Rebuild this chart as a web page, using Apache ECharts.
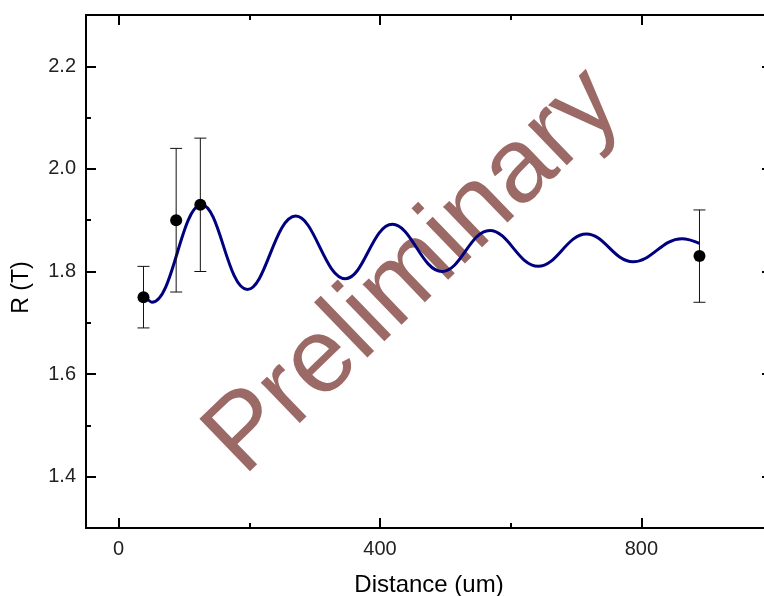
<!DOCTYPE html>
<html>
<head>
<meta charset="utf-8">
<script src="https://cdn.jsdelivr.net/npm/echarts@6/dist/echarts.min.js"></script>
<style>
  html, body { margin: 0; padding: 0; background: #fff; }
  #chart { width: 764px; height: 596px; }
</style>
</head>
<body>
<div id="chart"></div>
<script>
// measured points with error bars
const pointX = [38, 88, 125, 889];
const pointY = [1.75, 1.90, 1.93, 1.83];
const pointErr = [0.06, 0.14, 0.13, 0.09];

// fitted curve (start, extrema, end)
const fitX = [40, 51, 127, 197, 271, 347, 419, 495, 568, 642, 716, 787, 862, 889];
const fitY = [1.752, 1.740, 1.930, 1.765, 1.908, 1.786, 1.892, 1.800, 1.880, 1.810, 1.873, 1.819, 1.864, 1.855];

// tick positions
const xMajor = [0, 400, 800];
const xMinor = [200, 600];
const yMajor = [1.4, 1.6, 1.8, 2.0, 2.2];
const yMinor = [1.5, 1.7, 1.9, 2.1];

const FONT = "'Liberation Sans', Arial, sans-serif";
const chart = echarts.init(document.getElementById("chart"));

// helper for the box axes (major + minor tick copies on every side)
function xAx(position, ticks, len, labels) {
  return {
    type: "value",
    position: position,
    min: -50,
    max: 1000,
    axisLine: { show: true, onZero: false, lineStyle: { color: "#000", width: 2 } },
    axisTick: { show: true, inside: true, length: len, customValues: ticks, lineStyle: { color: "#000", width: 2 } },
    axisLabel: labels
      ? { show: true, customValues: ticks, margin: 11, fontSize: 20, color: "#222", fontFamily: FONT }
      : { show: false },
    splitLine: { show: false },
  };
}
function yAx(position, ticks, len, labels) {
  return {
    type: "value",
    position: position,
    min: 1.3,
    max: 2.3,
    axisLine: { show: true, onZero: false, lineStyle: { color: "#000", width: 2 } },
    axisTick: { show: true, inside: true, length: len, customValues: ticks, lineStyle: { color: "#000", width: 2 } },
    axisLabel: labels
      ? {
          show: true,
          customValues: ticks,
          margin: 10,
          fontSize: 20,
          color: "#222",
          fontFamily: FONT,
          formatter: (v) => v.toFixed(1),
        }
      : { show: false },
    splitLine: { show: false },
  };
}

const xBottom = xAx("bottom", xMajor, 10, true);
xBottom.name = "Distance (um)";
xBottom.nameLocation = "middle";
xBottom.nameGap = 45;
xBottom.nameTextStyle = { fontSize: 24, color: "#000", fontFamily: FONT };

const yLeft = yAx("left", yMajor, 10, true);
yLeft.name = "R (T)";
yLeft.nameLocation = "middle";
yLeft.nameGap = 53;
yLeft.nameTextStyle = { fontSize: 23, color: "#000", fontFamily: FONT, padding: [0, 32, 0, 0] };

chart.setOption({
  animation: false,
  backgroundColor: "#fff",
  // plot box runs past the right edge of the picture, as in the original
  grid: { left: 86, width: 686, top: 15, height: 513, containLabel: false, outerBoundsMode: "none" },
  xAxis: [xBottom, xAx("bottom", xMinor, 5, false), xAx("top", xMajor, 10, false), xAx("top", xMinor, 5, false)],
  yAxis: [yLeft, yAx("left", yMinor, 5, false), yAx("right", yMajor, 10, false), yAx("right", yMinor, 5, false)],
  graphic: [
    {
      type: "text",
      x: 414,
      y: 272,
      rotation: (44 * Math.PI) / 180,
      z: -10,
      silent: true,
      style: {
        text: "Preliminary",
        fontSize: 106,
        fontFamily: FONT,
        fill: "#9c6a66",
        align: "center",
        verticalAlign: "middle",
        textAlign: "center",
        textVerticalAlign: "middle",
      },
    },
  ],
  series: [
    {
      type: "line",
      data: fitX.map((x, i) => [x, fitY[i]]),
      smooth: 0.4,
      showSymbol: false,
      lineStyle: { color: "#00007f", width: 3 },
      z: 3,
    },
    {
      type: "custom",
      data: pointX.map((x, i) => [x, pointY[i] - pointErr[i], pointY[i] + pointErr[i]]),
      renderItem: function (params, api) {
        const lo = api.coord([api.value(0), api.value(1)]);
        const hi = api.coord([api.value(0), api.value(2)]);
        const half = 6;
        const style = { stroke: "#111", lineWidth: 1 };
        return {
          type: "group",
          children: [
            { type: "line", shape: { x1: lo[0], y1: lo[1], x2: hi[0], y2: hi[1] }, style: style },
            { type: "line", shape: { x1: lo[0] - half, y1: lo[1], x2: lo[0] + half, y2: lo[1] }, style: style },
            { type: "line", shape: { x1: hi[0] - half, y1: hi[1], x2: hi[0] + half, y2: hi[1] }, style: style },
          ],
        };
      },
      z: 4,
    },
    {
      type: "scatter",
      data: pointX.map((x, i) => [x, pointY[i]]),
      symbol: "circle",
      symbolSize: 12,
      itemStyle: { color: "#000", opacity: 1 },
      z: 5,
    },
  ],
});
</script>
</body>
</html>
